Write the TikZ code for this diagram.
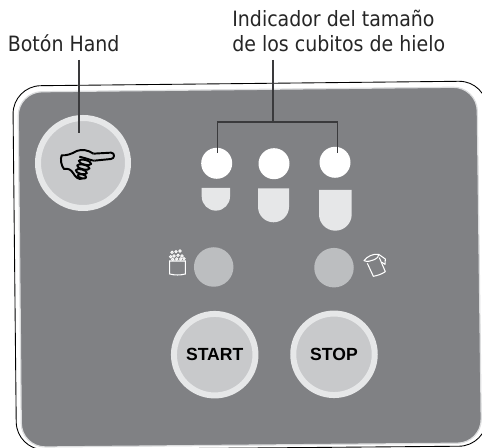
\documentclass[tikz,border=0pt]{standalone}
\usepackage{fontspec}
\setmainfont{DejaVu Sans Condensed}
\newfontfamily\btnfont{Liberation Sans}
\usetikzlibrary{positioning}
\definecolor{panelgray}{HTML}{808184}
\definecolor{panelrim}{HTML}{DDDEDF}
\definecolor{ringgray}{HTML}{E6E7E8}
\definecolor{facegray}{HTML}{C8C9CB}
\definecolor{modegray}{HTML}{BCBEC0}
\definecolor{leadergray}{HTML}{3A3A3C}
\tikzset{
	btnring/.style={circle, draw=ringgray, fill=facegray, line width=0.12cm, inner sep=0pt, font=\btnfont\bfseries\fontsize{10}{12}\selectfont, text=black},
	sizeled/.style={circle, fill=white, minimum size=0.62cm, inner sep=0pt},
	modeled/.style={circle, fill=modegray, minimum size=0.79cm, inner sep=0pt},
	labeltext/.style={anchor=south west, align=left, inner xsep=0pt, inner ysep=0.16cm, text=black!85, font=\fontsize{12}{14}\selectfont},
	leader/.style={draw=leadergray, line width=0.6pt},
	iconline/.style={draw=white, line width=0.6pt},
}
\begin{document}
\begin{tikzpicture}
	\useasboundingbox (0, 0) rectangle (9.64, 8.96);
	% case and panel
	\draw[black, line width=0.5pt, rounded corners=0.56cm] (0.256, 7.24) -- (9.74, 7.34) -- (9.74, 0.04) -- (0.33, -0.04) -- cycle;
	\draw[panelrim, fill=panelgray, line width=0.7pt, rounded corners=0.48cm] (0.36, 7.12) -- (9.54, 7.22) -- (9.63, 0.10) -- (0.43, 0.016) -- cycle;
	% buttons
	\node[btnring, minimum size=1.8cm] (btnHand) at (1.66, 5.70) {};
	\node[btnring, minimum size=1.63cm] (btnStart) at (4.294, 1.866) {START};
	\node[btnring, minimum size=1.63cm] (btnStop) at (6.68, 1.874) {STOP};
	% size indicators
	\node[sizeled] (ledSmall) at (4.334, 5.694) {};
	\node[sizeled] (ledMedium) at (5.48, 5.686) {};
	\node[sizeled] (ledLarge) at (6.70, 5.714) {};
	\fill[ringgray] (4.034, 5.20) -- (4.034, 5.03) arc (180:360:0.283) -- (4.60, 5.20) -- cycle;
	\fill[ringgray] (5.16, 5.194) -- (5.16, 4.824) arc (180:360:0.31) -- (5.78, 5.194) -- cycle;
	\fill[ringgray] (6.38, 5.16) -- (6.38, 4.673) arc (180:360:0.327) -- (7.034, 5.16) -- cycle;
	\node[modeled] (ledIce) at (4.274, 3.62) {};
	\node[modeled] (ledCup) at (6.68, 3.606) {};
	% labels and leaders
	\node[labeltext] (lblHand) at (0.15, 7.76) {Botón Hand};
	\node[labeltext] (lblSize) at (4.64, 7.76) {Indicador del tamaño\\de los cubitos de hielo};
	\coordinate (handTip) at (1.58, 6.30);
	\coordinate (sizeJoin) at (5.46, 6.52);
	\coordinate (tipSmall) at (4.346, 5.90);
	\coordinate (tipLarge) at (6.746, 5.90);
	\draw[leader] (lblHand.south -| handTip) -- (handTip);
	\draw[leader] (lblSize.south -| sizeJoin) -- (sizeJoin);
	\draw[leader] (tipSmall) -- (tipSmall |- sizeJoin) -- (tipLarge |- sizeJoin) -- (tipLarge);
	% hand
	\begin{scope}[shift={(1.0, 6.16)}, x=0.00667cm, y=-0.00667cm, line width=1.1pt, line join=round]
		\draw (130, 41) -- (183, 38) .. controls (195, 38) and (195, 56) .. (183, 57) -- (133, 62);
		\draw (130, 41) .. controls (115, 30) and (95, 27) .. (80, 33) .. controls (65, 42) and (50, 47) .. (35, 46) .. controls (30, 58) and (34, 78) .. (42, 87) .. controls (55, 85) and (62, 88) .. (70, 100) .. controls (75, 110) and (85, 120) .. (97, 116);
		\draw[rotate around={-14:(105, 67)}] (105, 67) ellipse (19 and 7);
		\draw[rotate around={-14:(100, 81)}] (100, 81) ellipse (19 and 7);
		\draw[rotate around={-14:(94, 95)}] (94, 95) ellipse (17 and 7);
		\draw[rotate around={-14:(96, 109)}] (96, 109) ellipse (13 and 6);
		\draw (133, 62) .. controls (125, 62) and (120, 58) .. (88, 50);
	\end{scope}
	% ice bucket
	\begin{scope}[shift={(3.0, 4.16)}, x=0.00667cm, y=-0.00667cm]
		\draw[iconline] (59, 63) -- (106, 63) -- (106, 102) .. controls (90, 106) and (75, 106) .. (59, 102) -- cycle;
		\foreach \ix/\iy in {66/37, 78/35, 90/33, 62/50, 72/48, 84/46, 96/48, 68/58, 80/57, 92/57, 102/56}
			\draw[white, line width=0.5pt] (\ix, \iy) circle (3.6);
	\end{scope}
	% jug
	\begin{scope}[shift={(7.0, 4.06)}, x=0.00667cm, y=-0.00667cm, line join=round]
		\draw[iconline] (42, 47) .. controls (50, 35) and (70, 25) .. (86, 28) .. controls (90, 38) and (60, 55) .. (42, 47) -- cycle;
		\draw[iconline] (86, 28) -- (106, 42) -- (105, 58) -- (96, 52);
		\draw[iconline] (52, 55) -- (70, 94) .. controls (80, 92) and (95, 88) .. (106, 80) -- (88, 38);
	\end{scope}
\end{tikzpicture}
\end{document}
